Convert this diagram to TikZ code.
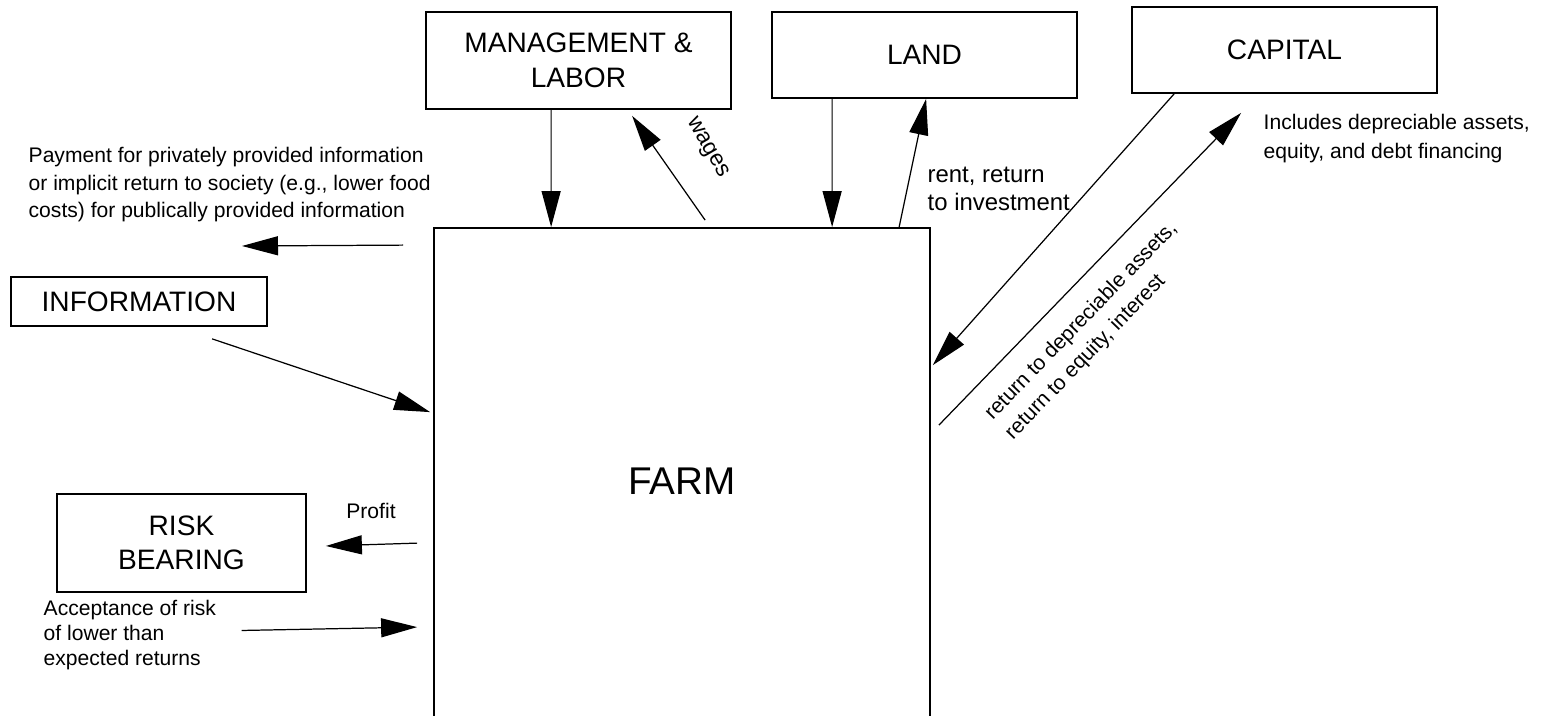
\documentclass[tikz,border=0pt]{standalone}
\usepackage{fontspec}
\setmainfont{Liberation Sans}
\usetikzlibrary{arrows.meta, positioning}

\begin{document}
\begin{tikzpicture}[
  box/.style={draw, line width=0.5pt, inner sep=0pt, align=center, font=\fontsize{8}{9.8}\selectfont},
  note/.style={inner sep=0pt, align=left, font=\fontsize{6}{7.7}\selectfont},
  flow/.style={line width=0.35pt, -{Triangle[length=3.6mm,width=1.9mm]}}
]

% Fix the page size
\useasboundingbox (0,0) rectangle (15.41,7.16);

% Draw the farm box (it runs off the bottom)
\node[box, minimum width=4.96cm, minimum height=5.06cm, font=\fontsize{11}{13}\selectfont] (farm) at (6.82,2.35) {FARM};

% Draw the input boxes
\node[box, minimum width=3.05cm, minimum height=0.97cm] (labor) at (5.785,6.555) {MANAGEMENT \&\\LABOR};
\node[box, minimum width=3.05cm, minimum height=0.86cm] (land) at (9.245,6.61) {LAND};
\node[box, minimum width=3.05cm, minimum height=0.86cm] (capital) at (12.845,6.66) {CAPITAL};
\node[box, minimum width=2.56cm, minimum height=0.49cm] (info) at (1.39,4.145) {INFORMATION};
\node[box, minimum width=2.49cm, minimum height=0.98cm] (risk) at (1.815,1.73) {RISK\\BEARING};

% Add the notes
\node[note, anchor=north west] (payment) at (0.28,5.69) {Payment for privately provided information\\or implicit return to society (e.g., lower food\\costs) for publically provided information};
\node[note, anchor=north west, font=\fontsize{6.8}{8.2}\selectfont] (rent) at (9.27,5.50) {rent, return\\to investment};
\node[note, anchor=north west, font=\fontsize{6}{8}\selectfont] (includes) at (12.63,6.02) {Includes depreciable assets,\\equity, and debt financing};
\node[note, rotate=-60, font=\fontsize{6.5}{8}\selectfont] (wages) at (7.07,5.68) {wages};
\node[note, anchor=north west, rotate=46, font=\fontsize{6}{8}\selectfont] (returns) at (9.81,3.06) {return to depreciable assets,\\return to equity, interest};
\node[note] (profit) at (3.71,2.05) {Profit};
\node[note, anchor=north west, font=\fontsize{6}{7.1}\selectfont] (accept) at (0.43,1.16) {Acceptance of risk\\of lower than\\expected returns};

\coordinate (paytip) at (2.42,4.70);

% Flows between the farm and its inputs
\draw[flow] ([xshift=1.26cm]labor.south west) -- ([xshift=1.18cm]farm.north west);
\draw[flow] ([xshift=2.72cm,yshift=0.07cm]farm.north west) -- ([xshift=2.07cm,yshift=-0.06cm]labor.south west);
\draw[flow] ([xshift=0.61cm]land.south west) -- ([xshift=3.99cm]farm.north west);
\draw[flow] ([xshift=4.66cm]farm.north west) -- ([xshift=1.55cm]land.south west);
\draw[flow] ([xshift=0.43cm]capital.south west) -- ([xshift=0.02cm,yshift=-1.38cm]farm.north east);
\draw[flow] ([xshift=0.08cm,yshift=-1.98cm]farm.north east) -- ([xshift=1.10cm,yshift=-0.19cm]capital.south west);
\draw[flow] ([xshift=-0.30cm,yshift=-0.18cm]farm.north west) -- (paytip);
\draw[flow] ([xshift=2.02cm,yshift=-0.12cm]info.south west) -- ([xshift=-0.03cm,yshift=-1.85cm]farm.north west);
\draw[flow] ([xshift=-0.16cm,yshift=-3.16cm]farm.north west) -- ([xshift=0.19cm,yshift=-0.03cm]risk.east);
\draw[flow] ([xshift=0.25cm,yshift=0.05cm]accept.east) -- ([xshift=-0.16cm,yshift=-4.00cm]farm.north west);

\end{tikzpicture}
\end{document}
